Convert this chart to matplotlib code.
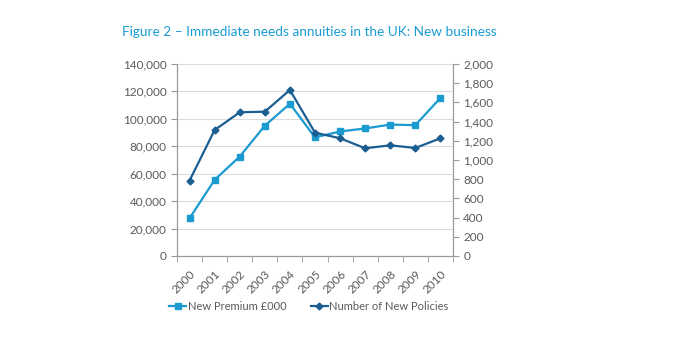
import matplotlib
matplotlib.use("Agg")
import matplotlib.pyplot as plt
from matplotlib.ticker import FuncFormatter, FixedLocator
import numpy as np

plt.rcParams['font.family'] = ['Lato', 'DejaVu Sans']

years = ["2000", "2001", "2002", "2003", "2004", "2005", "2006", "2007", "2008", "2009", "2010"]
premium = [27500, 55500, 72500, 95000, 111000, 86500, 90800, 93000, 95800, 95400, 115300]
policies = [785, 1312, 1497, 1503, 1729, 1285, 1226, 1122, 1153, 1125, 1226]

c_prem = "#1b9ad0"
c_pol = "#1b5e91"
grey = "#5a5a5a"

fig = plt.figure(figsize=(6.74, 3.5), dpi=100)
ax = fig.add_axes([0.2626, 0.2686, 0.4095, 0.5486])
ax2 = ax.twinx()

x = np.arange(len(years))
ax.plot(x, premium, color=c_prem, marker='s', markersize=5, lw=1.6, label="New Premium £000", zorder=3)
ax2.plot(x, policies, color=c_pol, marker='D', markersize=3.5, lw=1.6, label="Number of New Policies", zorder=3)

ax.set_xlim(-0.5, len(years) - 0.5)
ax.set_ylim(0, 140000)
ax2.set_ylim(0, 2000)
ax.set_yticks(np.arange(0, 140001, 20000))
ax2.set_yticks(np.arange(0, 2001, 200))
fmt = FuncFormatter(lambda v, p: f"{int(v):,}")
ax.yaxis.set_major_formatter(fmt)
ax2.yaxis.set_major_formatter(fmt)

ax.xaxis.set_major_locator(FixedLocator(x))
ax.set_xticks(x)
ax.set_xticklabels(years, rotation=45, ha='right', rotation_mode='anchor')
for lbl in ax.get_xticklabels():
    lbl.set_x(lbl.get_position()[0])
ax.set_xticks(np.arange(-0.5, len(years)), minor=True)
ax.tick_params(axis='x', which='major', length=0, labelsize=8.5, colors=grey, pad=9)
ax.tick_params(axis='x', which='minor', length=4, color="#999999")
ax.tick_params(axis='y', length=4, labelsize=8.5, colors=grey, color="#999999")
ax2.tick_params(axis='y', length=4, labelsize=8.5, colors=grey, color="#999999")

ax.grid(axis='y', color="#dcdcdc", lw=0.8)
ax.set_axisbelow(True)
for a in (ax, ax2):
    a.spines['top'].set_visible(False)
    for s in ('left', 'right', 'bottom'):
        a.spines[s].set_color("#999999")
        a.spines[s].set_linewidth(0.8)

h1, l1 = ax.get_legend_handles_labels()
h2, l2 = ax2.get_legend_handles_labels()
fig.legend(h1 + h2, l1 + l2, loc='center', bbox_to_anchor=(0.458, 0.125), ncol=2,
           frameon=False, fontsize=8, handlelength=1.6, handletextpad=0.1, columnspacing=2.2,
           labelcolor=grey)

fig.text(0.181, 0.908, "Figure 2 \u2013 Immediate needs annuities in the UK: New business",
         color="#1a9cd4", fontsize=9.8, ha='left', va='center')

fig.savefig("out.png", dpi=100)
